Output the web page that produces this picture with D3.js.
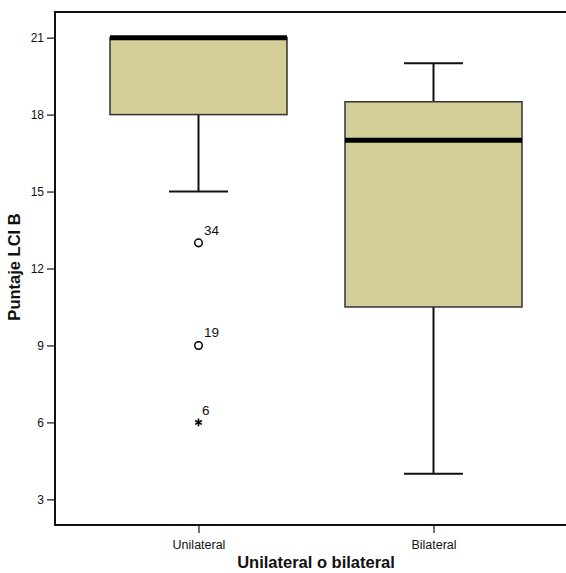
<!DOCTYPE html>
<html>
<head>
<meta charset="utf-8">
<script src="https://cdn.jsdelivr.net/npm/d3@7"></script>
<style>
body { margin: 0; background: #fff; }
text { font-family: Arial, "Liberation Sans", sans-serif; }
</style>
</head>
<body>
<script>
const categories = ["Unilateral", "Bilateral"];
const whiskerLow = [15, 4];
const q1 = [18, 10.5];
const median = [21, 17];
const q3 = [21, 18.5];
const whiskerHigh = [21, 20];
const outliers = [
  { cat: "Unilateral", value: 13, label: "34", type: "o" },
  { cat: "Unilateral", value: 9, label: "19", type: "o" },
  { cat: "Unilateral", value: 6, label: "6", type: "*" }
];
const yTicks = [3, 6, 9, 12, 15, 18, 21];

const width = 566, height = 573;
const plotLeft = 55, plotTop = 12, plotBottom = 525;

const svg = d3.select("body").append("svg")
    .attr("width", width)
    .attr("height", height);

const y = d3.scaleLinear().domain([2, 22]).range([plotBottom, plotTop]);
const x = d3.scalePoint().domain(categories).range([198.5, 433.5]);
const boxW = 177, capW = 59;

const boxes = categories.map((c, i) => ({
  cat: c, lo: whiskerLow[i], q1: q1[i], med: median[i], q3: q3[i], hi: whiskerHigh[i]
}));

// frame (open on the right, runs off the picture)
svg.append("path")
    .attr("d", `M${width + 5},${plotTop}H${plotLeft}V${plotBottom}H${width + 5}`)
    .attr("fill", "none")
    .attr("stroke", "#111")
    .attr("stroke-width", 2);

// y axis
const yAxis = svg.append("g")
    .attr("transform", `translate(${plotLeft},0)`)
    .call(d3.axisLeft(y).tickValues(yTicks).tickSize(8).tickPadding(3));
yAxis.select(".domain").remove();
yAxis.selectAll("line").attr("stroke", "#111").attr("stroke-width", 1.2);
yAxis.selectAll("text").attr("font-size", 12).attr("fill", "#111");

// x axis
const xAxis = svg.append("g")
    .attr("transform", `translate(0,${plotBottom})`)
    .call(d3.axisBottom(x).tickSize(8).tickPadding(7));
xAxis.select(".domain").remove();
xAxis.selectAll("line").attr("stroke", "#111").attr("stroke-width", 1.2);
xAxis.selectAll("text").attr("font-size", 12.5).attr("fill", "#111");

const g = svg.append("g");

// whiskers
g.selectAll(".whisk")
  .data(boxes)
  .join("path")
    .attr("d", d => {
      const cx = x(d.cat);
      let p = `M${cx},${y(d.q1)}V${y(d.lo)}M${cx - capW / 2},${y(d.lo)}H${cx + capW / 2}`;
      if (d.hi > d.q3) p += `M${cx},${y(d.q3)}V${y(d.hi)}M${cx - capW / 2},${y(d.hi)}H${cx + capW / 2}`;
      return p;
    })
    .attr("fill", "none")
    .attr("stroke", "#111")
    .attr("stroke-width", 2);

// boxes
g.selectAll(".box")
  .data(boxes)
  .join("rect")
    .attr("x", d => x(d.cat) - boxW / 2)
    .attr("y", d => y(d.q3))
    .attr("width", boxW)
    .attr("height", d => y(d.q1) - y(d.q3))
    .attr("fill", "#d3ce97")
    .attr("stroke", "#333")
    .attr("stroke-width", 1.5);

// medians
g.selectAll(".med")
  .data(boxes)
  .join("line")
    .attr("x1", d => x(d.cat) - boxW / 2)
    .attr("x2", d => x(d.cat) + boxW / 2)
    .attr("y1", d => y(d.med))
    .attr("y2", d => y(d.med))
    .attr("stroke", "#000")
    .attr("stroke-width", 5);

// outliers (circles) and extremes (stars)
g.selectAll(".out")
  .data(outliers.filter(d => d.type === "o"))
  .join("circle")
    .attr("cx", d => x(d.cat))
    .attr("cy", d => y(d.value))
    .attr("r", 3.8)
    .attr("fill", "none")
    .attr("stroke", "#000")
    .attr("stroke-width", 1.5);

g.selectAll(".ext")
  .data(outliers.filter(d => d.type === "*"))
  .join("path")
    .attr("transform", d => `translate(${x(d.cat)},${y(d.value)})`)
    .attr("d", d3.symbol(d3.symbolAsterisk, 42))
    .attr("fill", "none")
    .attr("stroke", "#000")
    .attr("stroke-width", 1.6);

g.selectAll(".olab")
  .data(outliers)
  .join("text")
    .attr("x", d => x(d.cat) + (d.type === "o" ? 5.5 : 3.5))
    .attr("y", d => y(d.value) - (d.type === "o" ? 8 : 7))
    .attr("font-size", 13.5)
    .attr("fill", "#111")
    .text(d => d.label);

// axis titles
svg.append("text")
    .attr("transform", `translate(20,267) rotate(-90)`)
    .attr("text-anchor", "middle")
    .attr("font-size", 16.5)
    .attr("font-weight", "bold")
    .attr("fill", "#111")
    .text("Puntaje LCI B");

svg.append("text")
    .attr("x", 316)
    .attr("y", 568)
    .attr("text-anchor", "middle")
    .attr("font-size", 16.5)
    .attr("font-weight", "bold")
    .attr("fill", "#111")
    .text("Unilateral o bilateral");
</script>
</body>
</html>
